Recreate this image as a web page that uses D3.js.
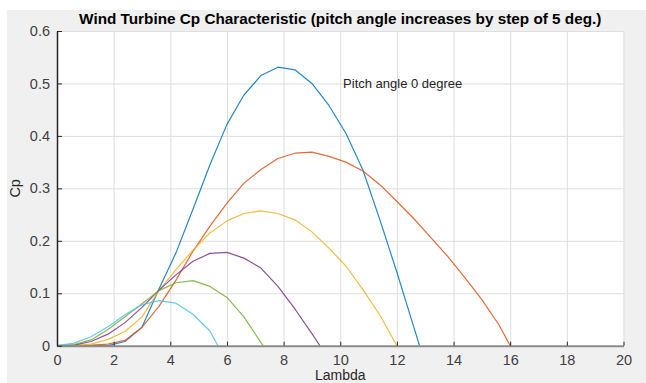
<!DOCTYPE html>
<html>
<head>
<meta charset="utf-8">
<script src="https://cdn.jsdelivr.net/npm/d3@7"></script>
<style>
  html, body { margin: 0; padding: 0; background: #ffffff; }
  svg { display: block; }
  text { font-family: "Liberation Sans", Arial, Helvetica, sans-serif; }
</style>
</head>
<body>
<div id="chart"></div>
<script>
// lambda samples shared by every curve (step 0.6)
const lambda = [0, 0.6, 1.2, 1.8, 2.4, 3.0, 3.6, 4.2, 4.8, 5.4, 6.0, 6.6, 7.2, 7.8,
    8.4, 9.0, 9.6, 10.2, 10.8, 11.4, 12.0, 12.6, 13.2, 13.8, 14.4, 15.0, 15.6];

const pitchAngles = [0, 5, 10, 15, 20, 25];

// Cp, one value per lambda sample until the curve reaches 0
const cpPitch0 = [0, 0, 0, 0, 0.008, 0.035, 0.108, 0.177, 0.26, 0.345, 0.422, 0.478,
    0.515, 0.531, 0.526, 0.5, 0.458, 0.405, 0.335, 0.24, 0.14, 0.035];
const cpPitch5 = [0, 0, 0.001, 0.003, 0.01, 0.035, 0.075, 0.125, 0.18, 0.228, 0.272,
    0.31, 0.336, 0.357, 0.367, 0.369, 0.361, 0.35, 0.333, 0.307, 0.275, 0.242, 0.206,
    0.17, 0.13, 0.088, 0.04];
const cpPitch10 = [0, 0, 0.003, 0.012, 0.027, 0.055, 0.105, 0.145, 0.182, 0.215, 0.238,
    0.252, 0.257, 0.252, 0.24, 0.217, 0.186, 0.152, 0.107, 0.058];
const cpPitch15 = [0, 0.001, 0.008, 0.022, 0.044, 0.073, 0.106, 0.135, 0.161, 0.176,
    0.178, 0.167, 0.148, 0.113, 0.07, 0.023];
const cpPitch20 = [0, 0.002, 0.011, 0.031, 0.055, 0.08, 0.105, 0.12, 0.124, 0.113,
    0.092, 0.055, 0.006];
const cpPitch25 = [0, 0.005, 0.017, 0.036, 0.059, 0.078, 0.086, 0.081, 0.06, 0.028];

// lambda where each curve hits Cp = 0
const zeroCrossing = [12.8, 16.0, 12.0, 9.28, 7.28, 5.68];

const xTicks = [0, 2, 4, 6, 8, 10, 12, 14, 16, 18, 20];
const yTicks = [0, 0.1, 0.2, 0.3, 0.4, 0.5, 0.6];

const seriesColors = ['#0072BD', '#D95319', '#EDB120', '#7E2F8E', '#77AC30', '#4DBEEE'];
const cpSeries = [cpPitch0, cpPitch5, cpPitch10, cpPitch15, cpPitch20, cpPitch25];

const width = 646;
const height = 383;
const plot = { left: 57, right: 623.5, top: 31, bottom: 345.7 };

const svg = d3.select('#chart')
    .append('svg')
    .attr('width', width)
    .attr('height', height);

// figure background (the screenshot has a thin white strip top and left)
svg.append('rect')
    .attr('x', 7).attr('y', 10)
    .attr('width', width - 7).attr('height', height - 10)
    .attr('fill', '#f0f0f0');

svg.append('rect')
    .attr('x', plot.left).attr('y', plot.top)
    .attr('width', plot.right - plot.left).attr('height', plot.bottom - plot.top)
    .attr('fill', '#ffffff');

const x = d3.scaleLinear().domain([0, 20]).range([plot.left, plot.right]);
const y = d3.scaleLinear().domain([0, 0.6]).range([plot.bottom, plot.top]);

// grid
svg.append('g')
    .attr('transform', `translate(0,${plot.bottom})`)
    .call(d3.axisBottom(x).tickValues(xTicks).tickSize(-(plot.bottom - plot.top)).tickFormat(''))
    .call(g => g.select('.domain').remove())
    .call(g => g.selectAll('line').attr('stroke', '#dedede').attr('stroke-width', 1));

svg.append('g')
    .attr('transform', `translate(${plot.left},0)`)
    .call(d3.axisLeft(y).tickValues(yTicks).tickSize(-(plot.right - plot.left)).tickFormat(''))
    .call(g => g.select('.domain').remove())
    .call(g => g.selectAll('line').attr('stroke', '#dedede').attr('stroke-width', 1));

// curves
const line = d3.line()
    .x(d => x(d[0]))
    .y(d => y(d[1]));

cpSeries.forEach((values, i) => {
    const pts = values.map((v, j) => [lambda[j], v]);
    pts.push([zeroCrossing[i], 0]);
    svg.append('path')
        .datum(pts)
        .attr('class', `pitch-${pitchAngles[i]}`)
        .attr('fill', 'none')
        .attr('stroke', seriesColors[i])
        .attr('stroke-opacity', 0.85)
        .attr('stroke-width', 1.2)
        .attr('stroke-linejoin', 'round')
        .attr('d', line);
});

// axes
svg.append('g')
    .attr('transform', `translate(0,${plot.bottom})`)
    .call(d3.axisBottom(x).tickValues(xTicks).tickSizeInner(-4).tickSizeOuter(0).tickPadding(9))
    .call(g => g.select('.domain').attr('stroke', '#8c8c8c').attr('stroke-width', 2))
    .call(g => g.selectAll('.tick line').attr('stroke', '#262626'))
    .call(g => g.selectAll('.tick text')
        .attr('fill', '#404040')
        .style('font-size', '14.5px'));

svg.append('g')
    .attr('transform', `translate(${plot.left},0)`)
    .call(d3.axisLeft(y).tickValues(yTicks).tickSizeInner(-5).tickSizeOuter(0).tickPadding(7)
        .tickFormat(d => d === 0 ? '0' : d3.format('.1f')(d)))
    .call(g => g.select('.domain').attr('stroke', '#262626').attr('stroke-width', 1.5))
    .call(g => g.selectAll('.tick line').attr('stroke', '#262626'))
    .call(g => g.selectAll('.tick text')
        .attr('fill', '#404040')
        .style('font-size', '14.5px'));

// labels
svg.append('text')
    .attr('x', (plot.left + plot.right) / 2)
    .attr('y', 24)
    .attr('text-anchor', 'middle')
    .style('font-size', '15.3px')
    .style('font-weight', 'bold')
    .attr('fill', '#000000')
    .text('Wind Turbine Cp Characteristic (pitch angle increases by step of 5 deg.)');

svg.append('text')
    .attr('transform', `translate(20,${(plot.top + plot.bottom) / 2}) rotate(-90)`)
    .attr('text-anchor', 'middle')
    .style('font-size', '14.5px')
    .attr('fill', '#262626')
    .text('Cp');

svg.append('text')
    .attr('x', (plot.left + plot.right) / 2)
    .attr('y', 380)
    .attr('text-anchor', 'middle')
    .style('font-size', '14px')
    .attr('fill', '#262626')
    .text('Lambda');

svg.append('text')
    .attr('x', x(10.1))
    .attr('y', y(0.5))
    .attr('dy', '0.35em')
    .style('font-size', '13px')
    .attr('fill', '#262626')
    .text('Pitch angle 0 degree');
</script>
</body>
</html>
